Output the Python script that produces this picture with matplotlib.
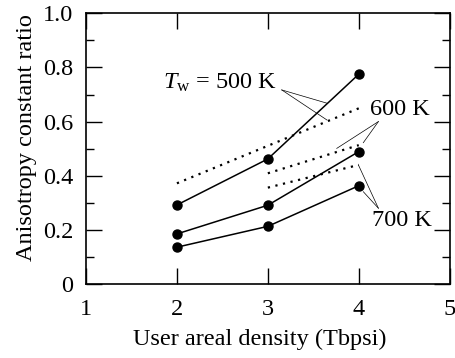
import matplotlib.pyplot as plt
from matplotlib.ticker import MultipleLocator

plt.rcParams['font.family'] = 'Liberation Serif'
plt.rcParams['mathtext.fontset'] = 'custom'
plt.rcParams['mathtext.rm'] = 'Liberation Serif'
plt.rcParams['mathtext.it'] = 'Liberation Serif:italic'

# user areal density (Tbpsi)
density = [2, 3, 4]
# solid lines with markers
ratio_500 = [0.292, 0.462, 0.775]
ratio_600 = [0.185, 0.291, 0.489]
ratio_700 = [0.136, 0.213, 0.363]
# dotted lines
dot_500_x = [2, 4]
dot_500_y = [0.372, 0.649]
dot_600_x = [3, 4]
dot_600_y = [0.409, 0.513]
dot_700_x = [3, 4]
dot_700_y = [0.356, 0.440]

fig = plt.figure(figsize=(4.56, 3.58), dpi=100)
ax = fig.add_axes([0.1886, 0.2067, 0.7975, 0.7561])

for y in [ratio_500, ratio_600, ratio_700]:
    ax.plot(density, y, color='black', lw=1.1, marker='o', ms=6.5)

dots = (0, (1, 2.5))
ax.plot(dot_500_x, dot_500_y, color='black', lw=1.6, linestyle=dots)
ax.plot(dot_600_x, dot_600_y, color='black', lw=1.6, linestyle=dots)
ax.plot(dot_700_x, dot_700_y, color='black', lw=1.6, linestyle=dots)

fs = 17.5
# labels with leader lines
ax.text(1.85, 0.742, r'$T_{\rm w}$ = 500 K', fontsize=fs, va='center', ha='left')
ax.plot([3.153, 3.65], [0.717, 0.668], color='black', lw=0.5)
ax.plot([3.153, 3.65], [0.717, 0.606], color='black', lw=0.5)

ax.text(4.12, 0.643, '600 K', fontsize=fs, va='center', ha='left')
ax.plot([4.216, 3.758], [0.600, 0.501], color='black', lw=0.5)
ax.plot([4.216, 4.05], [0.600, 0.522], color='black', lw=0.5)

ax.text(4.15, 0.236, '700 K', fontsize=fs, va='center', ha='left')
ax.plot([4.216, 3.996], [0.280, 0.440], color='black', lw=0.5)
ax.plot([4.216, 4.05], [0.280, 0.341], color='black', lw=0.5)

ax.set_xlim(1, 5)
ax.set_ylim(0, 1.0)
ax.set_xticks([1, 2, 3, 4, 5])
ax.set_yticks([0, 0.2, 0.4, 0.6, 0.8, 1.0])
ax.set_yticklabels(['0', '0.2', '0.4', '0.6', '0.8', '1.0'])
ax.yaxis.set_minor_locator(MultipleLocator(0.1))
ax.tick_params(which='both', direction='in', top=True, right=True, labelsize=fs)
ax.tick_params(which='major', length=11.5, width=1.0)
ax.tick_params(which='minor', length=5.8, width=1.0)
ax.tick_params(axis='x', pad=11)
ax.tick_params(axis='y', pad=9)
for s in ax.spines.values():
    s.set_linewidth(1.2)

ax.set_xlabel('User areal density (Tbpsi)', fontsize=fs)
ax.set_ylabel('Anisotropy constant ratio', fontsize=fs)
ax.xaxis.set_label_coords(0.478, -0.165)
ax.yaxis.set_label_coords(-0.135, 0.54)

fig.savefig('out.png', dpi=100)
